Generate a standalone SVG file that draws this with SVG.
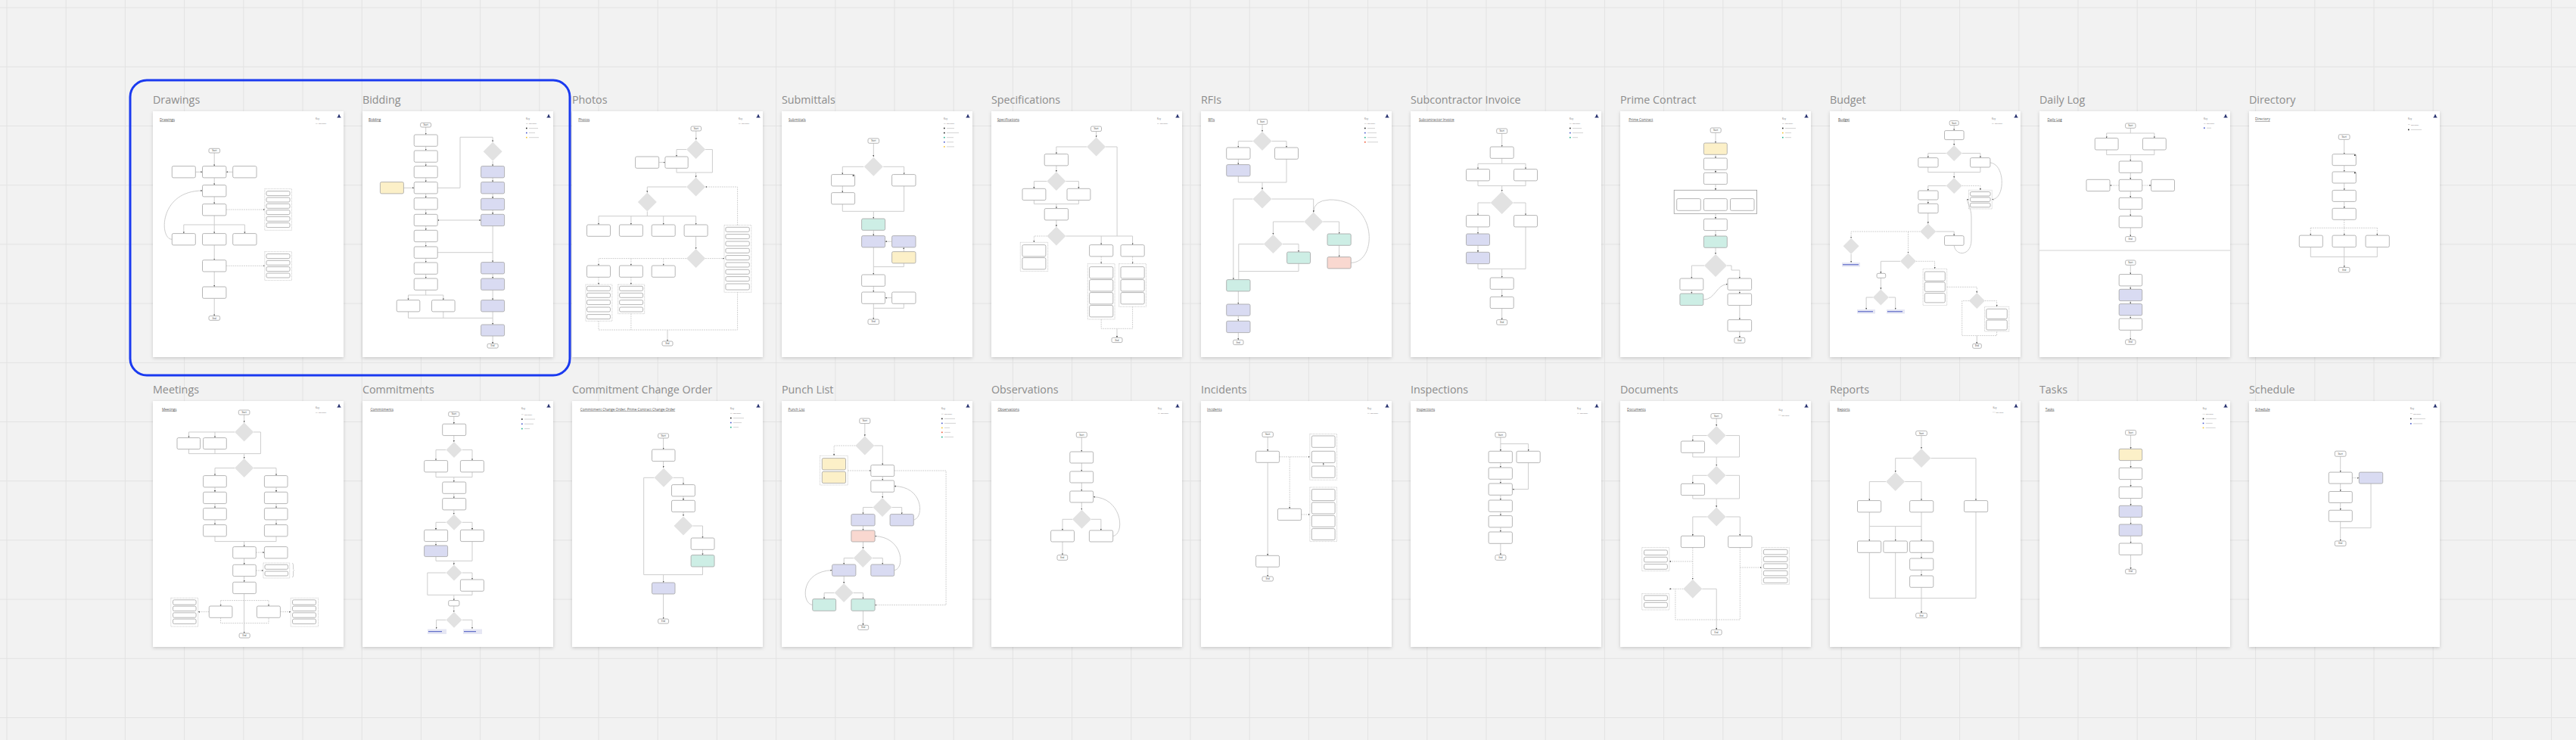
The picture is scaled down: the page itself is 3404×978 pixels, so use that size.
<svg xmlns="http://www.w3.org/2000/svg" width="3404" height="978" viewBox="0 0 3404 978">
<defs>
<pattern id="grid" x="8.5" y="9.6" width="78.2" height="78.2" patternUnits="userSpaceOnUse"><path d="M0 .5H78.2M.5 0V78.2" fill="none" stroke="#e2e2e2" stroke-width="1"/></pattern>
<filter id="sh" x="-10%" y="-10%" width="120%" height="120%"><feDropShadow dx="0" dy="1.5" stdDeviation="2" flood-color="#000" flood-opacity="0.18"/></filter>
<marker id="a" viewBox="0 0 4 4" refX="4" refY="2" markerUnits="userSpaceOnUse" markerWidth="2.2" markerHeight="2.2" orient="auto-start-reverse"><path d="M0 0L4 2L0 4z" fill="#555"/></marker>
<polygon id="dm" class="d" points="0,-12.5 12.5,0 0,12.5 -12.5,0"/>
<polygon id="ds" class="d" points="0,-10.5 10.5,0 0,10.5 -10.5,0"/>
<polygon id="dl" class="d" points="0,-15 15,0 0,15 -15,0"/>
<path id="logo" d="M.4 5.4H5.6V4.7H.4ZM1.1 4.7L3 .6L4.9 4.7Z" fill="#25306e"/>
</defs>
<style>
.card{fill:#fff;filter:url(#sh)}
.ttl{font-family:"Open Sans",sans-serif;font-size:14.3px;fill:#8c8c8c}
.t{font-family:"Open Sans",sans-serif;font-size:4.6px;fill:#555;text-decoration:underline}
.k{font-family:"Open Sans",sans-serif;font-size:3px;fill:#666}
.k2{font-family:"Open Sans",sans-serif;font-size:2.5px;fill:#777}
.kl{fill:none;stroke:#cfcfcf;stroke-width:.9}
.se{font-family:"Open Sans",sans-serif;font-size:2.8px;fill:#333;text-anchor:middle}
.b{fill:#fff;stroke:#a3a3a3;stroke-width:.8;rx:1.8px}
.lv{fill:#d9dbf2}.tl{fill:#cdeee5}.yl{fill:#fcf0c8}.pk{fill:#f9d8d0}
.d{fill:#e2e2e2}
.c{fill:none;stroke:#cdcdcd;stroke-width:1;marker-end:url(#a)}
.n{fill:none;stroke:#cdcdcd;stroke-width:1}
.c2{marker-start:url(#a)}
.dash{stroke-dasharray:1.8 1.1}
.g{fill:none;stroke:#b5b5b5;stroke-width:.6;stroke-dasharray:1.2 .8}
.ct{fill:#fff;stroke:#9b9b9b;stroke-width:.8}
.lk{fill:#e6e7f4}
.lkl{stroke:#3344bb;stroke-width:.9}
.kd{fill:none;stroke:#999;stroke-width:.5;stroke-dasharray:.8 .5}
</style>
<rect width="3404" height="978" fill="#f2f2f2"/>
<rect width="3404" height="978" fill="url(#grid)"/>

<g id="titles">
<text class="ttl" x="202" y="136.5">Drawings</text>
<text class="ttl" x="479" y="136.5">Bidding</text>
<text class="ttl" x="756" y="136.5">Photos</text>
<text class="ttl" x="1033" y="136.5">Submittals</text>
<text class="ttl" x="1310" y="136.5">Specifications</text>
<text class="ttl" x="1587" y="136.5">RFIs</text>
<text class="ttl" x="1864" y="136.5">Subcontractor Invoice</text>
<text class="ttl" x="2141" y="136.5">Prime Contract</text>
<text class="ttl" x="2418" y="136.5">Budget</text>
<text class="ttl" x="2695" y="136.5">Daily Log</text>
<text class="ttl" x="2972" y="136.5">Directory</text>
<text class="ttl" x="202" y="519.5">Meetings</text>
<text class="ttl" x="479" y="519.5">Commitments</text>
<text class="ttl" x="756" y="519.5">Commitment Change Order</text>
<text class="ttl" x="1033" y="519.5">Punch List</text>
<text class="ttl" x="1310" y="519.5">Observations</text>
<text class="ttl" x="1587" y="519.5">Incidents</text>
<text class="ttl" x="1864" y="519.5">Inspections</text>
<text class="ttl" x="2141" y="519.5">Documents</text>
<text class="ttl" x="2418" y="519.5">Reports</text>
<text class="ttl" x="2695" y="519.5">Tasks</text>
<text class="ttl" x="2972" y="519.5">Schedule</text>
</g>

<rect id="selection" x="172" y="106" width="581" height="390" rx="22" fill="none" stroke="#1a3af0" stroke-width="3"/>

<!-- DRAWINGS -->
<g id="drawings" transform="translate(202 147)">
<rect class="card" width="252" height="325"/>
<text class="t" x="9" y="12.6">Drawings</text>
<text class="k" x="215" y="10.6">Key</text><path class="kd" d="M215 16.4h3"/><text class="k2" x="219" y="17.3">Optional</text>
<use href="#logo" x="243" y="3"/>
<g id="drawings-connectors">
<path class="c" d="M81.2 55V72.6"/><path class="c" d="M56.3 80.3H65.5"/><path class="c" d="M105.7 80.3H96.9"/>
<path class="c" d="M81.2 88V97.6"/><path class="c" d="M81.2 112.9V122.6"/>
<path class="c dash" d="M96.9 130H147.8"/>
<path class="n" d="M81.2 137.9V150M40.8 150H121.4"/>
<path class="c" d="M40.8 150V161.6"/><path class="c" d="M81.2 150V161.6"/><path class="c" d="M121.4 150V161.6"/>
<path class="c" d="M25.3 169.3C8 169 8 105 65.5 105"/>
<path class="c" d="M81.2 176.9V196.7"/><path class="c dash" d="M96.9 204.3H147.8"/>
<path class="c" d="M81.2 212V232"/><path class="c" d="M81.2 247.3V270.6"/>
</g>
<rect class="b" x="74" y="49.3" width="14.6" height="5.7"/><text class="se" x="81.3" y="53.2">Start</text>
<rect class="b" x="25.3" y="72.6" width="31" height="15.3"/><rect class="b" x="65.5" y="72.6" width="31.4" height="15.3"/><rect class="b" x="105.7" y="72.6" width="31.3" height="15.3"/>
<rect class="b" x="65.5" y="97.6" width="31.4" height="15.3"/><rect class="b" x="65.5" y="122.6" width="31.4" height="15.3"/>
<rect class="b" x="25.3" y="161.6" width="31" height="15.3"/><rect class="b" x="65.5" y="161.6" width="31.4" height="15.3"/><rect class="b" x="105.7" y="161.6" width="31.3" height="15.3"/>
<rect class="b" x="65.5" y="196.7" width="31.4" height="15.3"/><rect class="b" x="65.5" y="232" width="31.4" height="15.3"/>
<rect class="g" x="147.8" y="102.6" width="35.6" height="54.7"/>
<rect class="b" x="150" y="105.6" width="31" height="6"/><rect class="b" x="150" y="114" width="31" height="6"/><rect class="b" x="150" y="122.3" width="31" height="6"/><rect class="b" x="150" y="130.6" width="31" height="6"/><rect class="b" x="150" y="139.3" width="31" height="6"/><rect class="b" x="150" y="147.6" width="31" height="6"/>
<rect class="g" x="147.8" y="185.6" width="35.6" height="38"/>
<rect class="b" x="150" y="188.6" width="31" height="6"/><rect class="b" x="150" y="197.3" width="31" height="6"/><rect class="b" x="150" y="205.6" width="31" height="6"/><rect class="b" x="150" y="214" width="31" height="6"/>
<rect class="b" x="74" y="270.6" width="14.6" height="5.7"/><text class="se" x="81.3" y="274.5">End</text>
</g>

<!-- BIDDING -->
<g id="bidding" transform="translate(479 147)">
<rect class="card" width="252" height="325"/>
<text class="t" x="8" y="12.6">Bidding</text>
<text class="k" x="216" y="10.6">Key</text><path class="kd" d="M216 16.4h3"/><text class="k2" x="220" y="17.3">Optional</text>
<rect x="216" y="21.7" width="1.6" height="1.6" fill="#222"/><path class="kl" d="M220 22.5h12"/>
<rect x="216" y="27.8" width="1.6" height="1.6" fill="#4455cc"/><path class="kl" d="M220 28.6h8"/>
<rect x="216" y="33.9" width="1.6" height="1.6" fill="#f2c230"/><path class="kl" d="M220 34.7h13"/>
<use href="#logo" x="243" y="3"/>
<g id="bidding-connectors">
<path class="c" d="M83.7 21V31"/><path class="c" d="M83.7 46.3V52"/><path class="c" d="M83.7 67.3V72.6"/><path class="c" d="M83.7 87.9V93.6"/><path class="c" d="M83.7 108.9V114.6"/><path class="c" d="M83.7 129.9V136.3"/><path class="c" d="M83.7 151.6V157.3"/><path class="c" d="M83.7 172.6V179"/><path class="c" d="M83.7 194.3V200"/><path class="c" d="M83.7 215.3V221"/>
<path class="c" d="M54.4 101.3H68.2"/>
<path class="c" d="M99.2 101.3H129V34.3H172.1V40.6"/>
<path class="c" d="M172.1 66V72.6"/><path class="c" d="M172.1 87.9V93.6"/><path class="c" d="M172.1 108.9V115.3"/><path class="c" d="M172.1 130.6V136.3"/>
<path class="c c2" d="M99.2 144H156.6"/>
<path class="c" d="M172.1 151.6V199.6"/><path class="n" d="M99.2 186.7H172.1"/>
<path class="c" d="M172.1 214.9V221"/><path class="c" d="M172.1 236.3V249.6"/><path class="c" d="M172.1 264.9V282"/><path class="c" d="M172.1 297V307.3"/>
<path class="n" d="M83.7 236.3V243M60.5 243H106.8"/><path class="c" d="M60.5 243V249.6"/><path class="c" d="M106.8 243V249.6"/>
<path class="n" d="M60.5 264.9V273.3H172.1M106.8 264.9V273.3"/>
</g>
<rect class="b" x="76.6" y="15.3" width="14" height="5.7"/><text class="se" x="83.6" y="19.2">Start</text>
<rect class="b" x="68.2" y="31" width="31" height="15.3"/><rect class="b" x="68.2" y="52" width="31" height="15.3"/><rect class="b" x="68.2" y="72.6" width="31" height="15.3"/><rect class="b" x="68.2" y="93.6" width="31" height="15.3"/><rect class="b" x="68.2" y="114.6" width="31" height="15.3"/><rect class="b" x="68.2" y="136.3" width="31" height="15.3"/><rect class="b" x="68.2" y="157.3" width="31" height="15.3"/><rect class="b" x="68.2" y="179" width="31" height="15.3"/><rect class="b" x="68.2" y="200" width="31" height="15.3"/><rect class="b" x="68.2" y="221" width="31" height="15.3"/>
<rect class="b yl" x="23.4" y="93.6" width="31" height="15.3"/>
<use href="#dm" x="172.1" y="53.3"/>
<rect class="b lv" x="156.6" y="72.6" width="31" height="15.3"/><rect class="b lv" x="156.6" y="93.6" width="31" height="15.3"/><rect class="b lv" x="156.6" y="115.3" width="31" height="15.3"/><rect class="b lv" x="156.6" y="136.3" width="31" height="15.3"/><rect class="b lv" x="156.6" y="199.6" width="31" height="15.3"/><rect class="b lv" x="156.6" y="221" width="31" height="15.3"/><rect class="b lv" x="156.6" y="249.6" width="31" height="15.3"/><rect class="b lv" x="156.6" y="282" width="31" height="15"/>
<rect class="b" x="45.2" y="249.6" width="30.6" height="15.3"/><rect class="b" x="91.5" y="249.6" width="30.6" height="15.3"/>
<rect class="b" x="165" y="307.3" width="14.2" height="5.7"/><text class="se" x="172.1" y="311.2">End</text>
</g>

<!-- PHOTOS -->
<g id="photos" transform="translate(756 147)">
<rect class="card" width="252" height="325"/>
<text class="t" x="8.2" y="12.6">Photos</text>
<text class="k" x="220" y="10.6">Key</text><path class="kd" d="M220 16.4h3"/><text class="k2" x="224" y="17.3">Optional</text>
<use href="#logo" x="243" y="3"/>
<g id="photos-connectors">
<path class="c" d="M163.8 26V37.6"/><path class="c" d="M151.1 50.6H138V60"/><path class="c" d="M114.7 67.6H122.9"/>
<path class="n" d="M176.1 50.6H185.4V81H138V75.3"/><path class="c" d="M163.6 81V87.5"/>
<path class="c" d="M151.1 100H99.3V107.5"/>
<path class="n" d="M99.3 132.5V138.6M35 138.6H163.6"/>
<path class="c" d="M35 138.6V150"/><path class="c" d="M77.9 138.6V150"/><path class="c" d="M120.7 138.6V150"/><path class="c" d="M163.6 138.6V150"/>
<path class="c" d="M163.6 165.3V182.1"/>
<path class="c dash" d="M151.1 194.6H35V204"/><path class="c dash" d="M77.9 194.6V204"/><path class="c dash" d="M120.7 194.6V204"/>
<path class="c dash" d="M176.1 194.6H201"/><path class="c dash" d="M218.6 150.6V100H176.1"/>
<path class="c dash" d="M35 219.3V229"/><path class="c dash" d="M77.9 219.3V229"/>
<path class="n dash" d="M35 277.3V289H218.6V239.3M77.9 267.6V289"/><path class="c" d="M126 289V304"/>
</g>
<rect class="b" x="157" y="20" width="13.6" height="6"/><text class="se" x="163.8" y="24">Start</text>
<use href="#dm" x="163.6" y="50.6"/>
<rect class="b" x="83.6" y="60" width="31.1" height="15.3"/><rect class="b" x="122.9" y="60" width="30.3" height="15.3"/>
<use href="#dm" x="163.6" y="100"/><use href="#dm" x="99.3" y="120"/>
<rect class="b" x="19.5" y="150" width="31" height="15.3"/><rect class="b" x="62.4" y="150" width="31" height="15.3"/><rect class="b" x="105.2" y="150" width="31" height="15.3"/><rect class="b" x="148.1" y="150" width="31" height="15.3"/>
<use href="#dm" x="163.6" y="194.6"/>
<rect class="b" x="19.5" y="204" width="31" height="15.3"/><rect class="b" x="62.4" y="204" width="31" height="15.3"/><rect class="b" x="105.2" y="204" width="31" height="15.3"/>
<rect class="g" x="201" y="150.6" width="35.8" height="88.7"/>
<rect class="b" x="202.9" y="153.3" width="31.4" height="6"/><rect class="b" x="202.9" y="162.6" width="31.4" height="6"/><rect class="b" x="202.9" y="172" width="31.4" height="6"/><rect class="b" x="202.9" y="181.3" width="31.4" height="6"/><rect class="b" x="202.9" y="190.6" width="31.4" height="6"/><rect class="b" x="202.9" y="200" width="31.4" height="6"/><rect class="b" x="202.9" y="209.3" width="31.4" height="6"/><rect class="b" x="202.9" y="218.6" width="31.4" height="6"/><rect class="b" x="202.9" y="228" width="31.4" height="8"/>
<rect class="g" x="17.9" y="229" width="35" height="48.3"/>
<rect class="b" x="19.5" y="231.3" width="31" height="6"/><rect class="b" x="19.5" y="240.3" width="31" height="6"/><rect class="b" x="19.5" y="249.6" width="31" height="6"/><rect class="b" x="19.5" y="259" width="31" height="6"/><rect class="b" x="19.5" y="268.6" width="31" height="6"/>
<rect class="g" x="60.7" y="229" width="35" height="38.6"/>
<rect class="b" x="62.6" y="231.3" width="31" height="6"/><rect class="b" x="62.6" y="240.3" width="31" height="6"/><rect class="b" x="62.6" y="249.6" width="31" height="6"/><rect class="b" x="62.6" y="259" width="31" height="6"/>
<rect class="b" x="119" y="304" width="14" height="6"/><text class="se" x="126" y="308">End</text>
</g>

<!-- SUBMITTALS -->
<g id="submittals" transform="translate(1033 147)">
<rect class="card" width="252" height="325"/>
<text class="t" x="9" y="12.6">Submittals</text>
<text class="k" x="214" y="10.6">Key</text><path class="kd" d="M214 16.4h3"/><text class="k2" x="218" y="17.3">Optional</text>
<rect x="214" y="21.7" width="1.6" height="1.6" fill="#222"/><path class="kl" d="M218 22.5h10"/>
<rect x="214" y="27.8" width="1.6" height="1.6" fill="#222"/><path class="kl" d="M218 28.6h16"/>
<rect x="214" y="33.9" width="1.6" height="1.6" fill="#20b08a"/><path class="kl" d="M218 34.7h9"/>
<rect x="214" y="40" width="1.6" height="1.6" fill="#4455cc"/><path class="kl" d="M218 40.8h9"/>
<rect x="214" y="46.1" width="1.6" height="1.6" fill="#f2c230"/><path class="kl" d="M218 46.9h10"/>
<use href="#logo" x="243" y="3"/>
<g id="submittals-connectors">
<path class="c" d="M121.3 42.3V60.3"/><path class="c" d="M108.3 73.3H80.3V83.6"/><path class="c" d="M80.3 98.9V107.6"/><path class="c" d="M134.3 73.3H161.6V83.6"/>
<path class="n" d="M80.3 122.9V132.3H161.6V98.9"/><path class="c" d="M121.3 132.3V142"/>
<path class="c" d="M121.3 157.3V164.6"/><path class="c" d="M145.6 172.2H136.7"/><path class="c" d="M161.3 185.6V179.9"/>
<path class="n" d="M161.3 200.9V205.6H121.3"/><path class="c" d="M121.3 179.9V216"/>
<path class="c" d="M121.3 231.3V239"/><path class="c" d="M145.6 246.6H136.7"/>
<path class="n" d="M161.3 254.3V260.3H121.3"/><path class="c" d="M121.3 254.3V275"/>
</g>
<rect class="b" x="114" y="36" width="14.6" height="6.3"/><text class="se" x="121.3" y="40.2">Start</text>
<use href="#dm" x="121.3" y="73.3"/>
<rect class="b" x="65.6" y="83.6" width="31" height="15.3"/><rect x="93.8" y="84.3" width="1.6" height="1.6" fill="#222"/>
<rect class="b" x="65.6" y="107.6" width="31" height="15.3"/><rect class="b" x="145.6" y="83.6" width="31.4" height="15.3"/>
<rect class="b tl" x="105.6" y="142" width="31" height="15.3"/>
<rect class="b lv" x="105.6" y="164.6" width="31" height="15.3"/><rect class="b lv" x="145.6" y="164.6" width="31.4" height="15.3"/>
<rect class="b yl" x="145.6" y="185.6" width="31.4" height="15.3"/>
<rect class="b" x="105.6" y="216" width="31" height="15.3"/><rect class="b" x="105.6" y="239" width="31" height="15.3"/><rect class="b" x="145.6" y="239" width="31.4" height="15.3"/>
<rect class="b" x="114" y="275" width="14.6" height="6.6"/><text class="se" x="121.3" y="279.3">End</text>
</g>

<!-- SPECIFICATIONS -->
<g id="specifications" transform="translate(1310 147)">
<rect class="card" width="252" height="325"/>
<text class="t" x="7.7" y="12.6">Specifications</text>
<text class="k" x="219" y="10.6">Key</text><path class="kd" d="M219 16.4h3"/><text class="k2" x="223" y="17.3">Optional</text>
<use href="#logo" x="243" y="3"/>
<g id="specifications-connectors">
<path class="c" d="M138.6 26.6V34.5"/><path class="c" d="M126.1 47H85.9V56.6"/><path class="n" d="M151.1 47H166.1V165"/>
<path class="c" d="M85.9 71.9V80.1"/><path class="c" d="M73.4 92.6H56.4V102.3"/><path class="c" d="M98.4 92.6H115.4V102.3"/>
<path class="n" d="M56.4 117.6V122.6H115.4V117.6"/><path class="c" d="M85.9 122.6V128.6"/>
<path class="c" d="M85.9 143.9V152.5"/>
<path class="c dash" d="M73.4 165H56.4V173.3"/>
<path class="n" d="M98.4 165H186.6"/><path class="c" d="M145.2 165V176.6"/><path class="c" d="M186.6 165V176.6"/>
<path class="c dash" d="M145.2 191.9V201.6"/><path class="c dash" d="M186.6 191.9V201.6"/>
<path class="n dash" d="M145.2 275V287.3H186.6V258.3"/><path class="c" d="M166 287.3V299.3"/>
</g>
<rect class="b" x="131.5" y="20" width="14" height="6.6"/><text class="se" x="138.5" y="24.3">Start</text>
<use href="#dm" x="138.6" y="47"/>
<rect class="b" x="70.2" y="56.6" width="31.4" height="15.3"/>
<use href="#dm" x="85.9" y="92.6"/>
<rect class="b" x="41" y="102.3" width="30.9" height="15.3"/><rect class="b" x="100" y="102.3" width="30.9" height="15.3"/>
<rect class="b" x="70.2" y="128.6" width="31.4" height="15.3"/>
<use href="#dm" x="85.9" y="165"/>
<rect class="g" x="38.3" y="173.3" width="36.4" height="38.3"/>
<rect class="b" x="40.9" y="176.6" width="31" height="15.3"/><rect class="b" x="40.9" y="193.6" width="31" height="15.3"/>
<rect class="b" x="129.6" y="176.6" width="31.2" height="15.3"/><rect class="b" x="171" y="176.6" width="31.2" height="15.3"/>
<rect class="g" x="127.3" y="201.6" width="35.8" height="73.4"/>
<rect class="b" x="129.6" y="205.6" width="31.2" height="15.3"/><rect class="b" x="129.6" y="222.6" width="31.2" height="15.3"/><rect class="b" x="129.6" y="239.6" width="31.2" height="15.3"/><rect class="b" x="129.6" y="256.6" width="31.2" height="15.3"/>
<rect class="g" x="168.7" y="201.6" width="35.8" height="56.7"/>
<rect class="b" x="171" y="205.6" width="31.2" height="15.3"/><rect class="b" x="171" y="222.6" width="31.2" height="15.3"/><rect class="b" x="171" y="239.6" width="31.2" height="15.3"/>
<rect class="b" x="159" y="299.3" width="14" height="6.3"/><text class="se" x="166" y="303.5">End</text>
</g>

<!-- RFIS -->
<g id="rfis" transform="translate(1587 147)">
<rect class="card" width="252" height="325"/>
<text class="t" x="9.5" y="12.6">RFIs</text>
<text class="k" x="216" y="10.6">Key</text><path class="kd" d="M216 16.4h3"/><text class="k2" x="220" y="17.3">Optional</text>
<rect x="216" y="21.7" width="1.6" height="1.6" fill="#222"/><path class="kl" d="M220 22.5h10"/>
<rect x="216" y="27.8" width="1.6" height="1.6" fill="#4455cc"/><path class="kl" d="M220 28.6h12"/>
<rect x="216" y="33.9" width="1.6" height="1.6" fill="#20b08a"/><path class="kl" d="M220 34.7h12"/>
<rect x="216" y="40" width="1.6" height="1.6" fill="#ee5533"/><path class="kl" d="M220 40.8h14"/>
<use href="#logo" x="243" y="3"/>
<g id="rfis-connectors">
<path class="c" d="M81 17.3V27.1"/><path class="c" d="M68.5 39.6H49.3V48"/><path class="c" d="M49.3 63.3V70.6"/><path class="c" d="M93.5 39.6H113V48"/>
<path class="n" d="M49.3 85.9V94H113V63.3"/><path class="c" d="M81 94V103.5"/>
<path class="c" d="M68.5 116H42.8V222.6"/><path class="c" d="M93.5 116H148.7V133.5"/>
<path class="c" d="M136.2 146H95.4V163.1"/><path class="c" d="M161.2 146H182.6V162"/><path class="c" d="M182.6 177.3V192.6"/>
<path class="c" d="M198.2 200.3C234 200 234 116 170 117Q148.7 118 148.7 133.5"/>
<path class="c" d="M107.9 175.6H129V186"/><path class="n" d="M82.9 175.6H49.8V222.6"/><path class="n" d="M129 201.3V211.6H49.8"/>
<path class="c" d="M49.3 237.9V255"/><path class="c" d="M49.3 270.3V277.3"/><path class="c" d="M49.3 292.6V302.3"/>
</g>
<rect class="b" x="74.4" y="10.6" width="13.3" height="6.7"/><text class="se" x="81" y="15">Start</text>
<use href="#dm" x="81" y="39.6"/>
<rect class="b" x="33.7" y="48" width="31.3" height="15.3"/><rect class="b lv" x="33.7" y="70.6" width="31.3" height="15.3"/><rect class="b" x="97.5" y="48" width="31" height="15.3"/>
<use href="#dm" x="81" y="116"/><use href="#dm" x="148.7" y="146"/><use href="#dm" x="95.4" y="175.6"/>
<rect class="b tl" x="167" y="162" width="31.2" height="15.3"/><rect class="b pk" x="167" y="192.6" width="31.2" height="15.3"/>
<rect class="b tl" x="113.6" y="186" width="30.9" height="15.3"/>
<rect class="b tl" x="33.7" y="222.6" width="31.3" height="15.3"/><rect class="b lv" x="33.7" y="255" width="31.3" height="15.3"/><rect class="b lv" x="33.7" y="277.3" width="31.3" height="15.3"/>
<rect class="b" x="42.6" y="302.3" width="13.4" height="6.3"/><text class="se" x="49.3" y="306.5">End</text>
</g>

<!-- SUBCONTRACTOR INVOICE -->
<g id="subcontractor-invoice" transform="translate(1864 147)">
<rect class="card" width="252" height="325"/>
<text class="t" x="10.9" y="12.6">Subcontractor Invoice</text>
<text class="k" x="210" y="10.6">Key</text><path class="kd" d="M210 16.4h3"/><text class="k2" x="214" y="17.3">Optional</text>
<rect x="210" y="21.7" width="1.6" height="1.6" fill="#222"/><path class="kl" d="M214 22.5h12"/>
<rect x="210" y="27.8" width="1.6" height="1.6" fill="#4455cc"/><path class="kl" d="M214 28.6h14"/>
<rect x="210" y="33.9" width="1.6" height="1.6" fill="#20b08a"/><path class="kl" d="M214 34.7h7"/>
<use href="#logo" x="243" y="3"/>
<g id="subcontractor-invoice-connectors">
<path class="c" d="M120.7 29.3V47"/><path class="n" d="M120.7 62.3V69.3M89 69.3H152"/><path class="c" d="M89 69.3V76.6"/><path class="c" d="M152 69.3V76.6"/>
<path class="n" d="M89 91.9V98.6H152V91.9"/><path class="c" d="M120.7 98.6V106"/>
<path class="c" d="M105.7 121H89V137.6"/><path class="c" d="M135.7 121H152V137.6"/>
<path class="c" d="M89 152.9V162"/><path class="c" d="M89 177.3V186.3"/>
<path class="n" d="M89 201.6V208.3H152V152.9"/><path class="c" d="M120.7 208.3V220"/>
<path class="c" d="M120.7 235.3V245.3"/><path class="c" d="M120.7 260.6V275.6"/>
</g>
<rect class="b" x="113.7" y="23" width="14" height="6.3"/><text class="se" x="120.7" y="27.2">Start</text>
<rect class="b" x="105.2" y="47" width="31" height="15.3"/>
<rect class="b" x="73.5" y="76.6" width="31" height="15.3"/><rect class="b" x="136.5" y="76.6" width="31" height="15.3"/>
<use href="#dl" x="120.7" y="121"/>
<rect class="b" x="73.5" y="137.6" width="31" height="15.3"/><rect class="b" x="136.5" y="137.6" width="31" height="15.3"/>
<rect class="b lv" x="73.5" y="162" width="31" height="15.3"/><rect class="b lv" x="73.5" y="186.3" width="31" height="15.3"/>
<rect class="b" x="105.2" y="220" width="31" height="15.3"/><rect class="b" x="105.2" y="245.3" width="31" height="15.3"/>
<rect class="b" x="113.7" y="275.6" width="14" height="6.6"/><text class="se" x="120.7" y="279.9">End</text>
</g>

<!-- PRIME CONTRACT -->
<g id="prime-contract" transform="translate(2141 147)">
<rect class="card" width="252" height="325"/>
<text class="t" x="11.2" y="12.6">Prime Contract</text>
<text class="k" x="214" y="10.6">Key</text><path class="kd" d="M214 16.4h3"/><text class="k2" x="218" y="17.3">Optional</text>
<rect x="214" y="21.7" width="1.6" height="1.6" fill="#222"/><path class="kl" d="M218 22.5h14"/>
<rect x="214" y="27.8" width="1.6" height="1.6" fill="#f2c230"/><path class="kl" d="M218 28.6h8"/>
<rect x="214" y="33.9" width="1.6" height="1.6" fill="#20b08a"/><path class="kl" d="M218 34.7h8"/>
<use href="#logo" x="243" y="3"/>
<g id="prime-contract-connectors">
<path class="c" d="M126 28.3V42"/><path class="c" d="M126 57.3V62"/><path class="c" d="M126 77.3V81.3"/><path class="c" d="M126 96.6V104.3"/>
<path class="c" d="M126 135.3V142.3"/><path class="c" d="M126 157.6V165"/><path class="c" d="M126 180.3V189"/>
<path class="c" d="M111 204H94.4V221"/><path class="c" d="M94.4 236.3V241"/>
<path class="c" d="M141 204H147V210H157.8V221"/><path class="c" d="M157.8 236.3V241"/><path class="c" d="M157.8 256.6V275.6"/><path class="c" d="M157.8 290.9V299.3"/>
<path class="c" d="M109.8 249C126 249 127 228.6 142 228.6"/>
</g>
<rect class="b" x="119.2" y="22" width="14" height="6.3"/><text class="se" x="126.2" y="26.2">Start</text>
<rect class="b yl" x="110.4" y="42" width="30.9" height="15.3"/>
<rect class="b" x="110.4" y="62" width="30.9" height="15.3"/><rect class="b" x="110.4" y="81.3" width="30.9" height="15.3"/>
<rect class="ct" x="71.2" y="104.3" width="109.4" height="31"/>
<rect class="b" x="74.7" y="115.6" width="31.6" height="15.7"/><rect class="b" x="110.4" y="115.6" width="30.9" height="15.7"/><rect class="b" x="145.5" y="115.6" width="31.5" height="15.7"/>
<rect class="b" x="110.4" y="142.3" width="30.9" height="15.3"/><rect class="b tl" x="110.4" y="165" width="30.9" height="15.3"/>
<use href="#dl" x="126" y="204"/>
<rect class="b" x="78.9" y="221" width="30.9" height="15.3"/><rect class="b tl" x="78.9" y="241" width="30.9" height="15.6"/>
<rect class="b" x="142" y="221" width="31.6" height="15.3"/><rect class="b" x="142" y="241" width="31.6" height="15.6"/><rect class="b" x="142" y="275.6" width="31.6" height="15.3"/>
<rect class="b" x="150.8" y="299.3" width="14" height="7"/><text class="se" x="157.8" y="303.8">End</text>
</g>

<!-- BUDGET -->
<g id="budget" transform="translate(2418 147)">
<rect class="card" width="252" height="325"/>
<text class="t" x="10.9" y="12.6">Budget</text>
<text class="k" x="214" y="10.6">Key</text><path class="kd" d="M214 16.4h3"/><text class="k2" x="218" y="17.3">Optional</text>
<use href="#logo" x="243" y="3"/>
<g id="budget-connectors">
<path class="c" d="M164.2 18.6V25.6"/><path class="c" d="M164.2 37.6V45.1"/>
<path class="c" d="M153.7 55.6H129.8V61.6"/><path class="c" d="M174.7 55.6H198.9V61.6"/>
<path class="n" d="M129.8 74V80.6H198.9V74"/><path class="c" d="M164.2 80.6V88.1"/>
<path class="c" d="M153.7 98.6H129.8V105"/><path class="c dash" d="M174.7 98.6H198.9V104.3"/>
<path class="c" d="M129.8 117V122.3"/>
<path class="c" d="M211.9 68C232 70 232 116 214.3 116.6"/>
<path class="c" d="M129.8 134.6V148.5"/>
<path class="c" d="M140.3 159H164.2V164.6"/>
<path class="c" d="M164.2 177.3C166 192 187 192 187 170V140C187 125 178 117 183.5 116.6"/>
<path class="c dash" d="M119.3 159H28.1V167.8"/><path class="c dash" d="M103.5 159V187.8"/>
<path class="c" d="M28.1 188.8V200"/>
<path class="c" d="M93 198.3H67.4V214.3"/><path class="c" d="M67.4 220.3V235.5"/>
<path class="c" d="M56.9 246H48.1V262"/><path class="c" d="M77.9 246H86.7V262"/>
<path class="c dash" d="M114 198.3H138.6V208.3"/>
<path class="c dash" d="M154.7 232.3H194.3V240.1"/>
<path class="c dash" d="M204.8 250.6H220.6V258.3"/>
<path class="n dash" d="M183.8 250.6H174.7V296.6H220.6V291"/><path class="c" d="M194.3 296.6V307.3"/>
</g>
<rect class="b" x="158.2" y="12.6" width="12" height="6"/><text class="se" x="164.2" y="16.6">Start</text>
<rect class="b" x="151.5" y="25.6" width="25.6" height="12"/>
<use href="#ds" x="164.2" y="55.6"/>
<rect class="b" x="116.8" y="61.6" width="26.3" height="12.4"/><rect class="b" x="185.6" y="61.6" width="26.3" height="12.4"/>
<use href="#ds" x="164.2" y="98.6"/>
<rect class="b" x="116.8" y="105" width="26.3" height="12"/><rect class="b" x="116.8" y="122.3" width="26.3" height="12.3"/>
<rect class="g" x="183.5" y="104.3" width="30.8" height="24.7"/>
<rect class="b" x="185.5" y="106.5" width="26.6" height="5.5"/><rect class="b" x="185.5" y="113.9" width="26.6" height="5.5"/><rect class="b" x="185.5" y="121.3" width="26.6" height="5.5"/>
<use href="#ds" x="129.8" y="159"/>
<rect class="b" x="151.5" y="164.6" width="25.6" height="12.7"/>
<use href="#ds" x="28.1" y="178.3"/>
<rect class="lk" x="16" y="200" width="24" height="5.5"/><path class="lkl" d="M17 202.8h21"/>
<use href="#ds" x="103.5" y="198.3"/>
<rect class="b" x="62.1" y="214.3" width="11.6" height="6"/>
<use href="#ds" x="67.4" y="246"/>
<rect class="lk" x="36" y="262" width="24" height="5.5"/><path class="lkl" d="M37 264.8h20"/>
<rect class="lk" x="75" y="262" width="24" height="5.5"/><path class="lkl" d="M76 264.8h20"/>
<rect class="g" x="123.1" y="208.3" width="31.6" height="48.3"/>
<rect class="b" x="125.3" y="212" width="27" height="12.3"/><rect class="b" x="125.3" y="226" width="27" height="12.3"/><rect class="b" x="125.3" y="240.6" width="27" height="12.3"/>
<use href="#ds" x="194.3" y="250.6"/>
<rect class="g" x="204.5" y="258.3" width="32.3" height="32.7"/>
<rect class="b" x="206.8" y="261.3" width="27.5" height="13"/><rect class="b" x="206.8" y="276" width="27.5" height="13"/>
<rect class="b" x="188.7" y="307.3" width="11.6" height="6"/><text class="se" x="194.5" y="311.3">End</text>
</g>

<!-- DAILY LOG -->
<g id="daily-log" transform="translate(2695 147)">
<rect class="card" width="252" height="325"/>
<text class="t" x="10.5" y="12.6">Daily Log</text>
<text class="k" x="217" y="10.6">Key</text><path class="kd" d="M217 16.4h3"/><text class="k2" x="221" y="17.3">Optional</text>
<rect x="217" y="21.4" width="1.6" height="1.6" fill="#4455cc"/><path class="kl" d="M221 22.2h6"/>
<use href="#logo" x="243" y="3"/>
<path d="M0 184H252" stroke="#c8c8c8" stroke-width=".8"/>
<g id="daily-log-connectors">
<path class="n" d="M120.3 22.3V29M88.7 29H151.8"/><path class="c" d="M88.7 29V35.6"/><path class="c" d="M151.8 29V35.6"/>
<path class="n" d="M88.7 51V57.6H151.8V51"/><path class="c" d="M120.3 57.6V66"/>
<path class="c" d="M120.3 81.3V90.3"/><path class="c dash" d="M105.2 98H93"/><path class="c dash" d="M135.7 98H147.6"/>
<path class="c" d="M120.3 105.6V114.3"/><path class="c" d="M120.3 129.6V138.6"/><path class="c" d="M120.3 153.9V165.6"/>
<path class="c" d="M120.3 203.3V215.6"/><path class="c" d="M120.3 230.9V235.3"/><path class="c" d="M120.3 250.6V254.6"/><path class="c" d="M120.3 269.9V274"/><path class="c" d="M120.3 289.3V302"/>
</g>
<rect class="b" x="113.6" y="16" width="13.4" height="6.3"/><text class="se" x="120.3" y="20.2">Start</text>
<rect class="b" x="73.3" y="35.6" width="30.8" height="15.4"/><rect class="b" x="136.4" y="35.6" width="30.9" height="15.4"/>
<rect class="b" x="105.2" y="66" width="30.5" height="15.3"/>
<rect class="b" x="62" y="90.3" width="31" height="15.3"/><rect class="b" x="105.2" y="90.3" width="30.5" height="15.3"/><rect class="b" x="147.6" y="90.3" width="30.9" height="15.3"/>
<rect class="b" x="105.2" y="114.3" width="30.5" height="15.3"/><rect class="b" x="105.2" y="138.6" width="30.5" height="15.3"/>
<rect class="b" x="113.6" y="165.6" width="13.4" height="6.7"/><text class="se" x="120.3" y="170">End</text>
<rect class="b" x="113.6" y="197" width="13.4" height="6.3"/><text class="se" x="120.3" y="201.2">Start</text>
<rect class="b" x="105.2" y="215.6" width="30.5" height="15.3"/><rect class="b lv" x="105.2" y="235.3" width="30.5" height="15.3"/><rect class="b lv" x="105.2" y="254.6" width="30.5" height="15.3"/><rect class="b" x="105.2" y="274" width="30.5" height="15.3"/>
<rect class="b" x="113.6" y="302" width="13.4" height="6.3"/><text class="se" x="120.3" y="306.2">End</text>
</g>

<!-- DIRECTORY -->
<g id="directory" transform="translate(2972 147)">
<rect class="card" width="252" height="325"/>
<text class="t" x="8" y="12.2">Directory</text>
<text class="k" x="210" y="10.6">Key</text><path class="kd" d="M210 17.6h3"/><text class="k2" x="214" y="18.5">Optional</text>
<rect x="210" y="23.6" width="1.6" height="1.6" fill="#222"/><path class="kl" d="M214 24.4h14"/>
<use href="#logo" x="243" y="3"/>
<g id="directory-connectors">
<path class="c" d="M125.7 37.3V56.7"/><path class="c" d="M125.7 71.7V80"/><path class="c" d="M125.7 95V104.4"/><path class="c" d="M125.7 119.4V128.3"/>
<path class="n dash" d="M125.7 143.3V154.2M81.3 154.2H169.3"/>
<path class="c dash" d="M81.3 154.2V164.1"/><path class="c dash" d="M125.7 154.2V164.1"/><path class="c dash" d="M169.3 154.2V164.1"/>
<path class="n" d="M81.3 179.6V192.5H169.3V179.6"/><path class="c" d="M125.7 179.6V206.4"/>
</g>
<rect class="b" x="118.3" y="30.8" width="14.7" height="6.5"/><text class="se" x="125.7" y="35.1">Start</text>
<rect class="b" x="110" y="56.7" width="31.3" height="15"/><rect x="139" y="57.3" width="1.6" height="1.6" fill="#222"/>
<rect class="b" x="110" y="80" width="31.3" height="15"/><rect x="139" y="80.6" width="1.6" height="1.6" fill="#222"/>
<rect class="b" x="110" y="104.4" width="31.3" height="15"/><rect class="b" x="110" y="128.3" width="31.3" height="15"/>
<rect class="b" x="66.3" y="164.1" width="31" height="15.5"/><rect class="b" x="110" y="164.1" width="31.3" height="15.5"/><rect class="b" x="154" y="164.1" width="31.3" height="15.5"/>
<rect class="b" x="118.3" y="206.4" width="14.7" height="6.5"/><text class="se" x="125.7" y="210.7">End</text>
</g>

<!-- MEETINGS -->
<g id="meetings" transform="translate(202 530)">
<rect class="card" width="252" height="325"/>
<text class="t" x="11.9" y="12.6">Meetings</text>
<text class="k" x="215" y="10">Key</text><path class="kd" d="M215 15.4h3"/><text class="k2" x="219" y="16.3">Optional</text>
<use href="#logo" x="243" y="3"/>
<g id="meetings-connectors">
<path class="c" d="M120.6 18V28.5"/><path class="c" d="M108.1 41H47.5V48.6"/><path class="c" d="M82 41V48.6"/>
<path class="n" d="M133.1 41H142.4V69.6M47.5 63.6V69.6H142.4M82 63.6V69.6"/><path class="c" d="M120.6 69.6V76.1"/>
<path class="c" d="M108.1 88.6H82V98.6"/><path class="c" d="M133.1 88.6H163V98.6"/>
<path class="c" d="M82 113.9V120.3"/><path class="c" d="M82 135.6V141.6"/><path class="c" d="M82 156.9V163.6"/>
<path class="c" d="M163 113.9V120.3"/><path class="c" d="M163 135.6V141.6"/><path class="c" d="M163 156.9V163.6"/>
<path class="n" d="M82 178.9V185.6H163V178.9"/><path class="c" d="M120.6 185.6V192.6"/>
<path class="c dash" d="M136.3 200.1H147.4"/><path class="c" d="M120.6 207.9V216.3"/><path class="c dash" d="M136.3 224H145.9"/>
<path class="c" d="M120.6 231.6V239.3"/>
<path class="n dash" d="M89.6 263.6H153"/><path class="c" d="M120.6 254.6V307"/>
<path class="c dash" d="M89.6 263.6V271"/><path class="c dash" d="M153 263.6V271"/>
<path class="c dash" d="M74.3 278.6H59.7"/><path class="c dash" d="M168.4 278.6H182.2"/>
<path class="n dash" d="M89.6 286.3V293.6H153V286.3"/>
<path class="n" d="M184 214.5q1.5 0 1.5 2v6l1.2 1.2-1.2 1.2v6q0 2-1.5 2"/>
</g>
<rect class="b" x="113.3" y="12" width="14.6" height="6"/><text class="se" x="120.6" y="16">Start</text>
<use href="#dm" x="120.6" y="41"/>
<rect class="b" x="32" y="48.6" width="30.6" height="15"/><rect class="b" x="66.6" y="48.6" width="30.7" height="15"/>
<use href="#dm" x="120.6" y="88.6"/>
<rect class="b" x="66.6" y="98.6" width="30.7" height="15.3"/><rect class="b" x="66.6" y="120.3" width="30.7" height="15.3"/><rect class="b" x="66.6" y="141.6" width="30.7" height="15.3"/><rect class="b" x="66.6" y="163.6" width="30.7" height="15.3"/>
<rect class="b" x="147.4" y="98.6" width="30.6" height="15.3"/><rect class="b" x="147.4" y="120.3" width="30.6" height="15.3"/><rect class="b" x="147.4" y="141.6" width="30.6" height="15.3"/><rect class="b" x="147.4" y="163.6" width="30.6" height="15.3"/>
<rect class="b" x="105.7" y="192.6" width="30.6" height="15.3"/><rect class="b" x="147.4" y="192.6" width="30.6" height="15.3"/>
<rect class="b" x="105.7" y="216.3" width="30.6" height="15.3"/>
<rect class="g" x="145.9" y="214" width="34.8" height="20"/>
<rect class="b" x="148" y="216.3" width="30.6" height="6"/><rect class="b" x="148" y="225" width="30.6" height="6"/>
<rect class="b" x="105.7" y="239.3" width="30.6" height="15.3"/>
<rect class="b" x="74.3" y="271" width="30.6" height="15.3"/><rect class="b" x="137.4" y="271" width="31" height="15.3"/>
<rect class="g" x="23.8" y="260.3" width="35.9" height="37.7"/>
<rect class="b" x="26.5" y="262.8" width="30.6" height="6.4"/><rect class="b" x="26.5" y="271.1" width="30.6" height="6.4"/><rect class="b" x="26.5" y="279.8" width="30.6" height="6.4"/><rect class="b" x="26.5" y="288.1" width="30.6" height="6.4"/>
<rect class="g" x="182.2" y="260.3" width="36.4" height="37.7"/>
<rect class="b" x="184.5" y="262.8" width="31" height="6.4"/><rect class="b" x="184.5" y="271.1" width="31" height="6.4"/><rect class="b" x="184.5" y="279.8" width="31" height="6.4"/><rect class="b" x="184.5" y="288.1" width="31" height="6.4"/>
<rect class="b" x="114.1" y="307" width="14.1" height="6"/><text class="se" x="121.1" y="311">End</text>
</g>

<!-- COMMITMENTS -->
<g id="commitments" transform="translate(479 530)">
<rect class="card" width="252" height="325"/>
<text class="t" x="10.4" y="12.6">Commitments</text>
<text class="k" x="210" y="11">Key</text><path class="kd" d="M210 17.8h3"/><text class="k2" x="214" y="18.7">Optional</text>
<rect x="210" y="23.2" width="1.6" height="1.6" fill="#222"/><path class="kl" d="M214 24h14"/>
<rect x="210" y="29.5" width="1.6" height="1.6" fill="#4455cc"/><path class="kl" d="M214 30.3h12"/>
<rect x="210" y="35.8" width="1.6" height="1.6" fill="#20b08a"/><path class="kl" d="M214 36.6h7"/>
<use href="#logo" x="243" y="3"/>
<g id="commitments-connectors">
<path class="c" d="M120.8 20.3V30.3"/><path class="c" d="M120.8 45.6V54.1"/>
<path class="c" d="M110.3 64.6H97V78.6"/><path class="c" d="M131.7 64.6H145V78.6"/>
<path class="n" d="M97 93.9V100.6H145V93.9"/><path class="c" d="M120.8 100.6V107"/>
<path class="c" d="M120.8 122.3V128.6"/><path class="c" d="M120.8 143.9V149.8"/>
<path class="c" d="M110.3 160.3H97V170.3"/><path class="c" d="M131.7 160.3H145V170.3"/><path class="c" d="M97 185.6V191"/>
<path class="n" d="M97 205.6V211.3H145V185.6"/><path class="c" d="M120.8 211.3V216.5"/>
<path class="n" d="M110.3 227H85.8V256.3H145V251.3"/><path class="c" d="M131.7 227H145V236"/>
<path class="c" d="M120.8 256.3V263.6"/><path class="c" d="M120.8 270.9V278.8"/>
<path class="c" d="M110.3 289.3H97.6V301"/><path class="c" d="M131.7 289.3H145V301"/>
</g>
<rect class="b" x="113.7" y="14.3" width="14.2" height="6"/><text class="se" x="120.8" y="18.3">Start</text>
<rect class="b" x="105.7" y="30.3" width="31" height="15.3"/>
<use href="#ds" x="121" y="64.6"/>
<rect class="b" x="81.6" y="78.6" width="31" height="15.3"/><rect class="b" x="129.4" y="78.6" width="31" height="15.3"/>
<rect class="b" x="105.7" y="107" width="31" height="15.3"/><rect class="b" x="105.7" y="128.6" width="31" height="15.3"/>
<use href="#ds" x="121" y="160.3"/>
<rect class="b" x="81.6" y="170.3" width="31" height="15.3"/><rect class="b" x="129.4" y="170.3" width="31" height="15.3"/>
<rect class="b lv" x="81.6" y="191" width="31" height="14.6"/>
<use href="#ds" x="121" y="227"/>
<rect class="b" x="129.4" y="236" width="31" height="15.3"/>
<rect class="b" x="113.7" y="263.6" width="14.2" height="7.3"/>
<use href="#ds" x="121" y="289.3"/>
<rect class="lk" x="86" y="301.5" width="25" height="6.5"/><path class="lkl" d="M87 304.7h18"/>
<rect class="lk" x="133" y="301.5" width="25" height="6.5"/><path class="lkl" d="M134 304.7h16"/>
</g>

<!-- COMMITMENT CHANGE ORDER -->
<g id="commitment-change-order" transform="translate(756 530)">
<rect class="card" width="252" height="325"/>
<text class="t" x="10.8" y="12.6">Commitment Change Order, Prime Contract Change Order</text>
<text class="k" x="209" y="10.6">Key</text><path class="kd" d="M209 16.4h3"/><text class="k2" x="213" y="17.3">Optional</text>
<rect x="209" y="21.7" width="1.6" height="1.6" fill="#222"/><path class="kl" d="M213 22.5h14"/>
<rect x="209" y="27.8" width="1.6" height="1.6" fill="#4455cc"/><path class="kl" d="M213 28.6h11"/>
<rect x="209" y="33.9" width="1.6" height="1.6" fill="#20b08a"/><path class="kl" d="M213 34.7h7"/>
<use href="#logo" x="243" y="3"/>
<g id="commitment-change-order-connectors">
<path class="c" d="M120.6 49V64"/><path class="c" d="M120.6 79.6V88.3"/>
<path class="n" d="M108.5 101.3H94.7V229.6H172.5V219"/>
<path class="c" d="M133.5 101.3H147V110.6"/><path class="c" d="M147 125.9V131.3"/><path class="c" d="M147 146.6V152"/>
<path class="c" d="M159.5 165H172.5V181"/><path class="c" d="M172.5 196.3V203.6"/>
<path class="c" d="M120.6 229.6V240"/><path class="c" d="M120.6 255V288"/>
</g>
<rect class="b" x="113.6" y="43" width="14" height="6"/><text class="se" x="120.6" y="47">Start</text>
<rect class="b" x="105.5" y="64" width="30.5" height="15.6"/>
<use href="#dm" x="121" y="101.3"/>
<rect class="b" x="131.5" y="110.6" width="30.9" height="15.3"/><rect class="b" x="131.5" y="131.3" width="30.9" height="15.3"/>
<use href="#dm" x="147" y="165"/>
<rect class="b" x="157.1" y="181" width="30.9" height="15.3"/><rect class="b tl" x="157.1" y="203.6" width="30.9" height="15.4"/>
<rect class="b lv" x="105.5" y="240" width="30.5" height="15"/>
<rect class="b" x="113.6" y="288" width="14" height="6"/><text class="se" x="120.6" y="292">End</text>
</g>

<!-- PUNCH LIST -->
<g id="punch-list" transform="translate(1033 530)">
<rect class="card" width="252" height="325"/>
<text class="t" x="8.4" y="12.6">Punch List</text>
<text class="k" x="211" y="11">Key</text><path class="kd" d="M211 17.2h3"/><text class="k2" x="215" y="18.1">Optional</text>
<rect x="211" y="22.6" width="1.6" height="1.6" fill="#222"/><path class="kl" d="M215 23.4h14"/>
<rect x="211" y="28.6" width="1.6" height="1.6" fill="#4455cc"/><path class="kl" d="M215 29.4h15"/>
<rect x="211" y="34.6" width="1.6" height="1.6" fill="#f2c230"/><path class="kl" d="M215 35.4h7"/>
<rect x="211" y="40.6" width="1.6" height="1.6" fill="#ee5533"/><path class="kl" d="M215 41.4h8"/>
<rect x="211" y="46.8" width="1.6" height="1.6" fill="#20b08a"/><path class="kl" d="M215 47.6h12"/>
<use href="#logo" x="243" y="3"/>
<g id="punch-list-connectors">
<path class="c" d="M109.8 29.6V46.5"/>
<path class="c dash" d="M97.3 59H69.1V72.3"/>
<path class="c" d="M122.3 59H133.3V84.6"/><path class="c" d="M133.3 99.6V105"/>
<path class="c dash" d="M87.3 92H117.8"/>
<path class="c dash" d="M148.7 92H217.1V269.6H123.1"/>
<path class="c" d="M133.3 120.3V128.1"/>
<path class="c" d="M120.5 140.6H107.5V149.6"/><path class="c" d="M145.5 140.6H158.7V149.6"/>
<path class="c" d="M174.3 157C188 155 188 113 148.7 112.5"/>
<path class="c" d="M107.5 164.9V171"/><path class="c" d="M107.5 186V195.1"/>
<path class="c" d="M94.8 207.6H82.2V216"/><path class="c" d="M119.8 207.6H133.3V216"/>
<path class="c" d="M148.7 223.6C163 222 161 180 123.1 178.5"/>
<path class="c" d="M82.2 231.3V241.1"/>
<path class="c" d="M69.6 253.6H56.1V261.6"/><path class="c" d="M94.6 253.6H107.5V261.6"/>
<path class="c" d="M40.7 269.5C26 268 24 225 66.6 223.6"/>
<path class="c" d="M107.5 277.3V296.3"/>
</g>
<rect class="b" x="102.8" y="23" width="14" height="6.6"/><text class="se" x="109.8" y="27.3">Start</text>
<use href="#dm" x="109.8" y="59"/>
<rect class="g" x="50.5" y="72.3" width="36.8" height="38.7"/>
<rect class="b yl" x="53.3" y="75.6" width="31.2" height="15.3"/><rect class="b yl" x="53.3" y="93.3" width="31.2" height="15.3"/>
<rect class="b" x="117.8" y="84.6" width="30.9" height="15"/><rect class="b" x="117.8" y="105" width="30.9" height="15.3"/>
<use href="#dm" x="133" y="140.6"/>
<rect class="b lv" x="91.9" y="149.6" width="31.2" height="15.3"/><rect class="b lv" x="143.1" y="149.6" width="31.2" height="15.3"/>
<rect class="b pk" x="91.9" y="171" width="31.2" height="15"/>
<use href="#dm" x="107.3" y="207.6"/>
<rect class="b lv" x="66.6" y="216" width="31.3" height="15.3"/><rect class="b lv" x="117.8" y="216" width="30.9" height="15.3"/>
<use href="#dm" x="82.1" y="253.6"/>
<rect class="b tl" x="40.7" y="261.6" width="30.9" height="15.7"/><rect class="b tl" x="91.9" y="261.6" width="31.2" height="15.7"/>
<rect class="b" x="100.7" y="296.3" width="14" height="6"/><text class="se" x="107.7" y="300.3">End</text>
</g>

<!-- OBSERVATIONS -->
<g id="observations" transform="translate(1310 530)">
<rect class="card" width="252" height="325"/>
<text class="t" x="8.4" y="12.6">Observations</text>
<text class="k" x="220" y="10.6">Key</text><path class="kd" d="M220 16.4h3"/><text class="k2" x="224" y="17.3">Optional</text>
<use href="#logo" x="243" y="3"/>
<g id="observations-connectors">
<path class="c" d="M119.3 48V67"/><path class="c" d="M119.3 82V93"/><path class="c" d="M119.3 108V119"/><path class="c" d="M119.3 134V143.8"/>
<path class="c" d="M107 156.3H94V171"/><path class="c" d="M132 156.3H144.9V171"/>
<path class="c" d="M160.7 178.5C177 176 173 128 134.7 126.6"/>
<path class="c" d="M94 186V203.6"/>
</g>
<rect class="b" x="112.3" y="41.3" width="14" height="6.7"/><text class="se" x="119.3" y="45.7">Start</text>
<rect class="b" x="103.8" y="67" width="30.9" height="15"/><rect class="b" x="103.8" y="93" width="30.9" height="15"/><rect class="b" x="103.8" y="119" width="30.9" height="15"/>
<use href="#dm" x="119.5" y="156.3"/>
<rect class="b" x="78.6" y="171" width="30.9" height="15"/><rect class="b" x="129.4" y="171" width="31.3" height="15"/>
<rect class="b" x="87" y="203.6" width="13.7" height="6.7"/><text class="se" x="93.8" y="208">End</text>
</g>

<!-- INCIDENTS -->
<g id="incidents" transform="translate(1587 530)">
<rect class="card" width="252" height="325"/>
<text class="t" x="8.1" y="12.6">Incidents</text>
<text class="k" x="220" y="10.6">Key</text><path class="kd" d="M220 16.4h3"/><text class="k2" x="224" y="17.3">Optional</text>
<use href="#logo" x="243" y="3"/>
<g id="incidents-connectors">
<path class="c" d="M88.2 47.6V66.3"/><path class="c" d="M88.2 81.3V204.3"/><path class="c" d="M88.2 219.3V232"/>
<path class="c dash" d="M103.5 73.8H143.8"/><path class="c dash" d="M117.2 73.8V142.3"/>
<path class="c" d="M161.7 86V81.6"/>
<path class="c dash" d="M132.6 150H143.8"/>
</g>
<rect class="b" x="81" y="41" width="14.4" height="6.6"/><text class="se" x="88.2" y="45.3">Start</text>
<rect class="b" x="72.6" y="66.3" width="31" height="15"/>
<rect class="g" x="143.8" y="43.6" width="35.8" height="60.7"/>
<rect class="b" x="146.3" y="46" width="30.8" height="15.3"/><rect class="b" x="146.3" y="66.3" width="30.8" height="15.3"/><rect class="b" x="146.3" y="86" width="30.8" height="15.3"/>
<rect class="b" x="101.4" y="142.3" width="31.2" height="15.3"/>
<rect class="g" x="143.8" y="114" width="35.8" height="71.6"/>
<rect class="b" x="146.3" y="116.6" width="30.8" height="15"/><rect class="b" x="146.3" y="134" width="30.8" height="15"/><rect class="b" x="146.3" y="151.3" width="30.8" height="15"/><rect class="b" x="146.3" y="168.6" width="30.8" height="15"/>
<rect class="b" x="72.6" y="204.3" width="31" height="15"/>
<rect class="b" x="81" y="232" width="14.4" height="6"/><text class="se" x="88.2" y="236">End</text>
</g>

<!-- INSPECTIONS -->
<g id="inspections" transform="translate(1864 530)">
<rect class="card" width="252" height="325"/>
<text class="t" x="7.7" y="12.6">Inspections</text>
<text class="k" x="220" y="10.6">Key</text><path class="kd" d="M220 16.4h3"/><text class="k2" x="224" y="17.3">Optional</text>
<use href="#logo" x="243" y="3"/>
<g id="inspections-connectors">
<path class="c" d="M118.9 48V66.3"/><path class="c" d="M118.9 56.6H155.6V66.3"/>
<path class="c" d="M118.9 81.6V88"/><path class="c" d="M118.9 103.3V109"/><path class="c" d="M118.9 124.3V131"/><path class="c" d="M118.9 146.3V151.6"/><path class="c" d="M118.9 166.9V173"/>
<path class="c" d="M155.6 81.6V116.6H134.4"/>
<path class="c" d="M118.9 188.3V203.6"/>
</g>
<rect class="b" x="111.9" y="41.3" width="14" height="6.7"/><text class="se" x="118.9" y="45.7">Start</text>
<rect class="b" x="103.1" y="66.3" width="31.3" height="15.3"/><rect class="b" x="103.1" y="88" width="31.3" height="15.3"/><rect class="b" x="103.1" y="109" width="31.3" height="15.3"/><rect class="b" x="103.1" y="131" width="31.3" height="15.3"/><rect class="b" x="103.1" y="151.6" width="31.3" height="15.3"/><rect class="b" x="103.1" y="173" width="31.3" height="15.3"/>
<rect class="b" x="140" y="66.3" width="31.2" height="15.3"/>
<rect class="b" x="111.9" y="203.6" width="14" height="6.7"/><text class="se" x="118.9" y="208">End</text>
</g>

<!-- DOCUMENTS -->
<g id="documents" transform="translate(2141 530)">
<rect class="card" width="252" height="325"/>
<text class="t" x="9.1" y="12.6">Documents</text>
<text class="k" x="209.4" y="12.6">Key</text><path class="kd" d="M209.4 18.7h3"/><text class="k2" x="213.4" y="19.6">Optional</text>
<use href="#logo" x="243" y="3"/>
<g id="documents-connectors">
<path class="c" d="M127.2 23V33.1"/>
<path class="c" d="M114.7 45.6H95.8V53"/><path class="n" d="M139.7 45.6H157.5V74H95.8V68.3"/><path class="c" d="M127.2 74V85.8"/>
<path class="c" d="M114.7 98.3H95.8V109.3"/><path class="n" d="M139.7 98.3H157.5V129H95.8V124.6"/><path class="c" d="M127.2 129V140.5"/>
<path class="c" d="M114.7 153H95.8V178.3"/><path class="c" d="M139.7 153H158.3V178.3"/>
<path class="c dash" d="M95.8 193.6V235.8"/><path class="c dash" d="M95.8 212H64.8"/>
<path class="c dash" d="M83.3 248.3H64.8"/>
<path class="n dash" d="M158.3 193.6V289H72.9V248.3"/>
<path class="c dash" d="M158.3 220H186.9"/>
<path class="c" d="M108.3 248.3H127.2V302.3"/>
</g>
<rect class="b" x="119.9" y="16.6" width="14.4" height="6.4"/><text class="se" x="127.1" y="20.8">Start</text>
<use href="#dm" x="127.2" y="45.6"/>
<rect class="b" x="80.3" y="53" width="31.2" height="15.3"/>
<use href="#dm" x="127.2" y="98.3"/>
<rect class="b" x="80.3" y="109.3" width="31.2" height="15.3"/>
<use href="#dm" x="127.2" y="153"/>
<rect class="b" x="80.3" y="178.3" width="31.2" height="15.3"/><rect class="b" x="142.7" y="178.3" width="31.3" height="15.3"/>
<rect class="g" x="28.7" y="193.6" width="36.1" height="31"/>
<rect class="b" x="31.5" y="197" width="30.9" height="6.6"/><rect class="b" x="31.5" y="206.3" width="30.9" height="6.6"/><rect class="b" x="31.5" y="215.7" width="30.9" height="6.6"/>
<use href="#dm" x="95.8" y="248.3"/>
<rect class="g" x="28.7" y="254.6" width="36.1" height="21.4"/>
<rect class="b" x="31.5" y="257" width="30.9" height="6.6"/><rect class="b" x="31.5" y="266.3" width="30.9" height="6.6"/>
<rect class="g" x="186.9" y="193.6" width="36.5" height="48.7"/>
<rect class="b" x="189.4" y="196.3" width="31.6" height="6.6"/><rect class="b" x="189.4" y="205.7" width="31.6" height="6.6"/><rect class="b" x="189.4" y="215" width="31.6" height="6.6"/><rect class="b" x="189.4" y="224.3" width="31.6" height="6.6"/><rect class="b" x="189.4" y="233.7" width="31.6" height="6.6"/>
<rect class="b" x="120.1" y="302.3" width="14" height="6.7"/><text class="se" x="127.1" y="306.7">End</text>
</g>

<!-- REPORTS -->
<g id="reports" transform="translate(2418 530)">
<rect class="card" width="252" height="325"/>
<text class="t" x="9.8" y="12.6">Reports</text>
<text class="k" x="215.4" y="9.6">Key</text><path class="kd" d="M215.4 14.8h3"/><text class="k2" x="219.4" y="15.7">Optional</text>
<use href="#logo" x="243" y="3"/>
<g id="reports-connectors">
<path class="c" d="M121 45.6V63.1"/><path class="c" d="M108.5 75.6H86.7V94.1"/><path class="c" d="M133.5 75.6H193V131.6"/>
<path class="c" d="M74.2 106.6H52.3V131.6"/><path class="c" d="M99.2 106.6H121V131.6"/>
<path class="n" d="M52.3 146.9V165.6H121V146.9"/>
<path class="c" d="M52.3 165.6V185"/><path class="c" d="M86.7 165.6V185"/><path class="c" d="M121 165.6V185"/>
<path class="c" d="M121 200.3V208"/><path class="c" d="M121 223.3V231"/>
<path class="n" d="M52.3 200.3V260.6H193V146.6M86.7 200.3V260.6"/><path class="c" d="M121 246.3V280.3"/>
</g>
<rect class="b" x="113.7" y="39.6" width="14.7" height="6"/><text class="se" x="121" y="43.6">Start</text>
<use href="#dm" x="121" y="75.6"/><use href="#dm" x="86.7" y="106.6"/>
<rect class="b" x="177.5" y="131.6" width="31.2" height="15"/>
<rect class="b" x="36.5" y="131.6" width="31.2" height="15.3"/><rect class="b" x="105.6" y="131.6" width="31.2" height="15.3"/>
<rect class="b" x="36.5" y="185" width="31.2" height="15.3"/><rect class="b" x="70.9" y="185" width="31.5" height="15.3"/><rect class="b" x="105.6" y="185" width="31.2" height="15.3"/>
<rect class="b" x="105.6" y="208" width="31.2" height="15.3"/><rect class="b" x="105.6" y="231" width="31.2" height="15.3"/>
<rect class="b" x="113.7" y="280.3" width="14.7" height="6.3"/><text class="se" x="121" y="284.5">End</text>
</g>

<!-- TASKS -->
<g id="tasks" transform="translate(2695 530)">
<rect class="card" width="252" height="325"/>
<text class="t" x="7.7" y="12.6">Tasks</text>
<text class="k" x="215.7" y="11">Key</text><path class="kd" d="M215.7 17.4h3"/><text class="k2" x="219.7" y="18.3">Optional</text>
<rect x="215.7" y="22.6" width="1.6" height="1.6" fill="#222"/><path class="kl" d="M219.7 23.4h14"/>
<rect x="215.7" y="28.6" width="1.6" height="1.6" fill="#4455cc"/><path class="kl" d="M219.7 29.4h9"/>
<rect x="215.7" y="34.6" width="1.6" height="1.6" fill="#f2c230"/><path class="kl" d="M219.7 35.4h13"/>
<use href="#logo" x="243" y="3"/>
<g id="tasks-connectors">
<path class="c" d="M120.6 45V63.3"/><path class="c" d="M120.6 78.6V88.3"/><path class="c" d="M120.6 103.6V113.3"/><path class="c" d="M120.6 128.6V138.3"/><path class="c" d="M120.6 153.6V163"/><path class="c" d="M120.6 178.3V188"/><path class="c" d="M120.6 203.3V222.3"/>
</g>
<rect class="b" x="113.6" y="38.6" width="14" height="6.4"/><text class="se" x="120.6" y="42.8">Start</text>
<rect class="b yl" x="105.2" y="63.3" width="30.5" height="15.3"/><rect class="b" x="105.2" y="88.3" width="30.5" height="15.3"/><rect class="b" x="105.2" y="113.3" width="30.5" height="15.3"/><rect class="b lv" x="105.2" y="138.3" width="30.5" height="15.3"/><rect class="b lv" x="105.2" y="163" width="30.5" height="15.3"/><rect class="b" x="105.2" y="188" width="30.5" height="15.3"/>
<rect class="b" x="113.6" y="222.3" width="14" height="6"/><text class="se" x="120.6" y="226.3">End</text>
</g>

<!-- SCHEDULE -->
<g id="schedule" transform="translate(2972 530)">
<rect class="card" width="252" height="325"/>
<text class="t" x="8" y="12.5">Schedule</text>
<text class="k" x="213" y="10.5">Key</text><path class="kd" d="M213 16.6h3"/><text class="k2" x="217" y="17.5">Optional</text>
<rect x="213" y="22.6" width="1.6" height="1.6" fill="#222"/><path class="kl" d="M217 23.4h16"/>
<rect x="213" y="29.1" width="1.6" height="1.6" fill="#4455cc"/><path class="kl" d="M217 29.9h12"/>
<use href="#logo" x="243" y="3"/>
<g id="schedule-connectors">
<path class="c" d="M120.7 73.2V94.1"/><path class="c dash" d="M136.3 101.6H145.3"/>
<path class="c" d="M120.7 109.1V119.5"/><path class="c" d="M120.7 134.5V144.3"/><path class="c" d="M120.7 159.3V185"/>
<path class="n" d="M161 109.1V167.7H120.7"/>
</g>
<rect class="b" x="113.3" y="66.2" width="14.7" height="7"/><text class="se" x="120.7" y="70.7">Start</text>
<rect class="b" x="105.3" y="94.1" width="31" height="15"/><rect class="b lv" x="145.3" y="94.1" width="31.4" height="15"/>
<rect class="b" x="105.3" y="119.5" width="31" height="15"/><rect class="b" x="105.3" y="144.3" width="31" height="15"/>
<rect class="b" x="113.3" y="185" width="14.7" height="6.6"/><text class="se" x="120.7" y="189.3">End</text>
</g>
</svg>
